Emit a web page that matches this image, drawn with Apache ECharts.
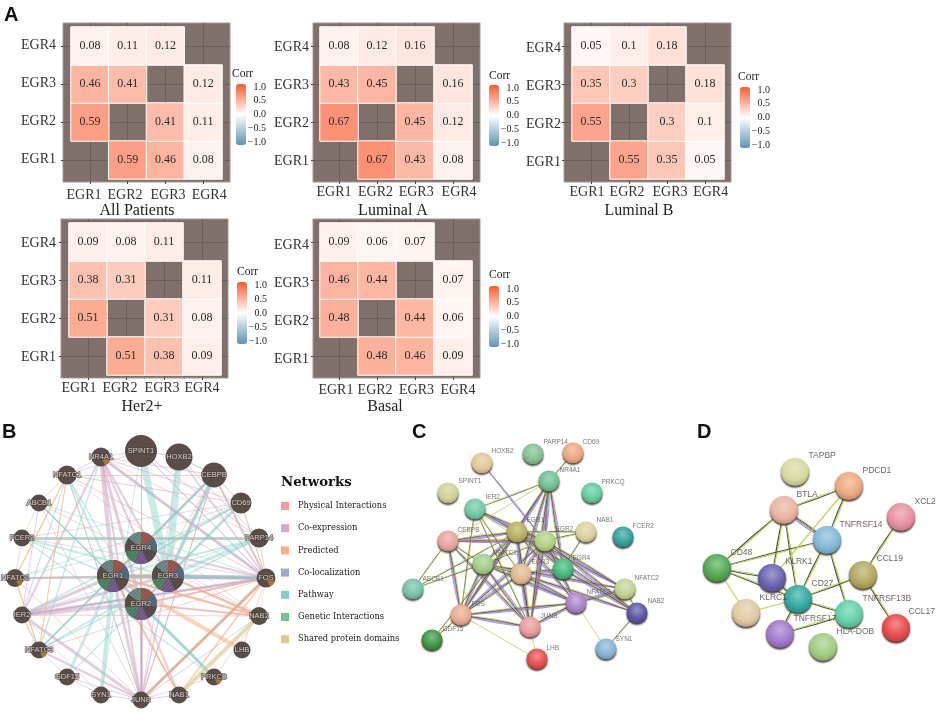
<!DOCTYPE html>
<html><head><meta charset="utf-8"><style>html,body{margin:0;background:#fff}#c{width:942px;height:712px}</style>
<script src="https://cdn.jsdelivr.net/npm/echarts@6/dist/echarts.min.js"></script></head>
<body><div id="c"></div><script>
// ---------- Panel A data ----------
const genes = ['EGR1','EGR2','EGR3','EGR4'];
const panelNames = ['All Patients','Luminal A','Luminal B','Her2+','Basal'];
const allPatients = [[null,0.59,0.46,0.08],[0.59,null,0.41,0.11],[0.46,0.41,null,0.12],[0.08,0.11,0.12,null]];
const luminalA   = [[null,0.67,0.43,0.08],[0.67,null,0.45,0.12],[0.43,0.45,null,0.16],[0.08,0.12,0.16,null]];
const luminalB   = [[null,0.55,0.35,0.05],[0.55,null,0.3,0.1],[0.35,0.3,null,0.18],[0.05,0.1,0.18,null]];
const her2       = [[null,0.51,0.38,0.09],[0.51,null,0.31,0.08],[0.38,0.31,null,0.11],[0.09,0.08,0.11,null]];
const basal      = [[null,0.48,0.46,0.09],[0.48,null,0.44,0.06],[0.46,0.44,null,0.07],[0.09,0.06,0.07,null]];
const matrices = [allPatients,luminalA,luminalB,her2,basal];

// ---------- Panel B data ----------
const networkTypes = ['Physical Interactions','Co-expression','Predicted','Co-localization','Pathway','Genetic Interactions','Shared protein domains'];
const physicalEdges = ['FOS JUNB 3','FCER2 PARP14 2.5','EGR1 EGR3 3','EGR1 EGR2 1.5','EGR2 EGR3 1.5','FOS NFATC2 1','FOS NFATC1 1','FOS IER2 1.2','NFATC1 JUNB 1','NFATC2 JUNB 1','NAB2 EGR1 2','NAB2 EGR2 2','NAB2 EGR3 2','NAB1 EGR1 1.5','NAB1 EGR2 2','CEBPB FOS 1','CEBPB JUNB 1','CEBPB NFATC1 1','NFATC3 FOS 1','NFATC2 EGR3 1.5','IER2 NAB2 1','NR4A1 PARP14 0.8','ABCB1 NAB2 0.8'];
const coexpressionEdges = ['NR4A1 EGR1 4','NR4A1 EGR2 3','NR4A1 EGR3 2','NR4A1 EGR4 2','NR4A1 FOS 3','NR4A1 IER2 2','NR4A1 JUNB 2','NR4A1 CD69 1','NR4A1 CEBPB 1','NR4A1 NFATC1 1','IER2 EGR1 3','IER2 EGR2 4','IER2 EGR3 3','IER2 FOS 3','IER2 JUNB 3','JUNB EGR1 3','JUNB EGR2 3','JUNB EGR4 1.5','JUNB EGR3 1.5','JUNB FOS 2','JUNB NFATC3 2','FOS EGR1 4','FOS EGR3 4','FOS EGR2 2','FOS EGR4 2','FOS CEBPB 2','FOS SPINT1 1','FOS CD69 1','FOS HOXB2 1.5','NFATC3 EGR1 1','NFATC2 EGR1 1','CEBPB EGR1 2','CEBPB EGR3 2','CEBPB JUNB 1','CEBPB NFATC3 1','SPINT1 EGR4 1','SPINT1 PARP14 1','GDF15 SYN1 1','SYN1 JUNB 1','NAB1 JUNB 1','GDF15 JUNB 1','CD69 EGR1 1','PARP14 FOS 1','NFATC1 CD69 1','IER2 NFATC3 1.5','ABCB1 IER2 1','HOXB2 PARP14 1','NAB2 EGR2 1','NFATC2 FCER2 0.8','NFATC1 SPINT1 0.8','SPINT1 NR4A1 0.8','HOXB2 CEBPB 0.8','FCER2 CD69 0.8','ABCB1 JUNB 0.8','LHB FOS 0.8','NAB2 PRKCB 0.8','SPINT1 JUNB 0.8','HOXB2 JUNB 0.8','NFATC1 NAB2 0.8','FCER2 FOS 0.8','IER2 SYN1 0.8','PRKCB JUNB 0.8'];
const predictedEdges = ['LHB EGR1 4','FOS JUNB 3','FOS NAB1 2','EGR1 EGR3 4','NAB1 EGR1 2','CEBPB EGR2 1','NFATC1 NFATC2 1.5','NFATC2 NFATC3 1','NFATC3 NFATC1 1','NAB2 EGR1 2','NAB2 EGR3 2','NAB1 NAB2 1','EGR2 EGR4 2','FOS EGR2 1.5','CEBPB CD69 0.8'];
const colocalizationEdges = ['NR4A1 FOS 1','EGR1 FOS 1','JUNB NAB2 1','SPINT1 HOXB2 1','HOXB2 CEBPB 1','NFATC1 IER2 1','IER2 FOS 1','SPINT1 FOS 0.8','GDF15 NFATC3 0.8'];
const pathwayEdges = ['SPINT1 EGR3 7','HOXB2 EGR3 7','CEBPB EGR3 4','CEBPB EGR4 3','FCER2 PARP14 3','FCER2 EGR3 2','CD69 EGR1 1.5','CD69 EGR3 3','PARP14 EGR3 3','PARP14 EGR1 2','SYN1 EGR1 4','GDF15 EGR1 3','NFATC3 EGR1 1.5','NFATC3 EGR4 2','NFATC3 EGR3 1.5','PRKCB EGR2 3','PRKCB EGR1 3','NFATC1 EGR1 2','NFATC1 EGR2 1.5','NFATC2 EGR4 1','NFATC2 EGR3 1.5','ABCB1 EGR2 1.5','ABCB1 EGR1 1.5','FOS EGR3 3','FOS EGR1 2','NAB2 EGR4 1','IER2 CD69 1.5','IER2 PARP14 1','ABCB1 FOS 1','FCER2 EGR1 1.5','NR4A1 NFATC3 1.5','GDF15 CD69 1.5','NFATC3 PARP14 1.5','NFATC1 JUNB 1','FCER2 PRKCB 1.5','SPINT1 SYN1 1','NFATC2 CD69 1','ABCB1 PRKCB 1'];
const geneticEdges = ['FOS JUNB 0.8','JUNB EGR2 0.8','EGR1 EGR4 0.8'];
const sharedEdges = ['NAB1 NAB2 4','NFATC1 NFATC2 1','NFATC1 NFATC3 1','NFATC2 NFATC3 1.5','ABCB1 FCER2 0.8','CEBPB CD69 0.8','CD69 FOS 0.8','NFATC1 ABCB1 1','FOS NAB2 0.8','CEBPB FOS 0.8'];
const edgesByType = [physicalEdges,coexpressionEdges,predictedEdges,colocalizationEdges,pathwayEdges,geneticEdges,sharedEdges];
const wedgeNodes = ['NR4A1','NFATC2','FOS','NFATC3','PRKCB'];
const hubNodes = ['EGR4','EGR1','EGR3','EGR2'];

// ---------- Panel C data ----------
const fullEdgesC = ['EGR1 EGR2','EGR1 EGR3','EGR1 EGR4','EGR2 EGR3','EGR2 EGR4','EGR3 EGR4','EGR1 NFATC1','EGR1 NR4A1','EGR2 NR4A1','EGR3 NR4A1','EGR4 NR4A1','EGR1 FOS','EGR2 FOS','EGR3 FOS','EGR1 JUNB','EGR2 JUNB','EGR3 JUNB','FOS JUNB','FOS NFATC3','FOS NFATC1','JUNB NFATC1','JUNB NFATC3','NFATC1 NFATC3','NFATC1 NFATC2','NFATC2 NFATC3','EGR1 NFATC2','EGR2 NFATC2','EGR1 NAB2','EGR2 NAB2','EGR3 NAB2','EGR4 NAB2','EGR1 NFATC3','EGR2 NFATC3','EGR3 NFATC3','CEBPB EGR1','CEBPB EGR2','CEBPB FOS','CEBPB JUNB','FOS NR4A1','JUNB NR4A1','IER2 EGR1','IER2 EGR2'];
const darkEdgesC = ['IER2 NR4A1','IER2 EGR3','IER2 FOS','IER2 JUNB','NAB2 NFATC2','NAB2 SYN1','CEBPB NFATC1','NFATC1 EGR3','GDF15 FOS','GDF15 EGR1','CEBPB ABCB1','ABCB1 EGR1','ABCB1 EGR2','NAB1 EGR1','NAB1 EGR2','NAB1 EGR4','NR4A1 CD69'];
const greenEdgesC = ['LHB FOS','LHB JUNB','NFATC3 SYN1','CEBPB NR4A1','IER2 EGR4'];
const cyanEdgesC = ['HOXB2 EGR2'];

// ---------- Panel D data ----------
const fullEdgesD = ['BTLA TNFRSF14'];
const darkEdgesD = ['BTLA PDCD1','BTLA CD48','BTLA KLRK1','BTLA CD27','PDCD1 TNFRSF14','TNFRSF14 CD48','TNFRSF14 CD27','TNFRSF14 TNFRSF13B','CD48 KLRK1','CD48 CD27','CD27 TNFRSF13B','CD27 CCL19','TNFRSF17 TNFRSF13B','XCL2 CCL19','CCL19 CCL17','KLRK1 CD27','CD27 TNFRSF17'];
const greenEdgesD = ['PDCD1 KLRK1','KLRC1 CD27','CD48 KLRC1'];

// ---------- Layout (image pixels) ----------
const heatLayout = [
 {p:[63,230,23,182], c:[71,222,27,179], bar:[236,84,61], corr:[232,68], t:[137,203], m:6, lx:[0.844,1.93,3.07,4.16], ys:-0.5, ym:7},
 {p:[313,480,23,182],c:[320,472,27,179],bar:[489,85,61], corr:[489,70], t:[393,203], m:3, lx:[0.87,1.96,3.03,4.16], ys:1, ym:4},
 {p:[564,731,23,182],c:[572,724,27,179],bar:[740,87,61], corr:[738,71], t:[639,203], m:3, lx:[0.895,1.95,3.08,4.15], ys:2.5, ym:3},
 {p:[61,228,219,378],c:[69,221,223,375],bar:[237,282,62],corr:[237,266],t:[142,399], m:3, lx:[0.76,1.84,2.95,4.0], ys:1, ym:5},
 {p:[313,480,219,378],c:[320,472,223,375],bar:[489,286,61],corr:[489,269],t:[385,399],m:5, lx:[0.92,1.95,3.04,4.13], ys:3, ym:4}
];
const layoutB = {SPINT1:[141,451,32],HOXB2:[179,457,27],CEBPB:[214,475,25],CD69:[241,503,21],PARP14:[259,538,19],FOS:[266,578,19],NAB2:[259,616,18],LHB:[242,650,17],PRKCB:[214,677,17],NAB1:[179,695,17],JUNB:[141,700,17],SYN1:[101,695,17],GDF15:[67,677,17],NFATC3:[39,650,17],IER2:[22,615,17],NFATC2:[15,578,18],FCER2:[22,538,17],ABCB1:[39,503,17],NFATC1:[67,475,19],NR4A1:[101,457,19],EGR4:[141,548,32],EGR1:[113,576,32],EGR3:[168,576,32],EGR2:[141,604,32]};
// [x, y, colour, label x, label y]
const layoutC = {HOXB2:[482,463,'#e2c795',491,451],PARP14:[533,454,'#7fc08f',543,442],CD69:[573,453,'#eba67e',582,442],NR4A1:[549,481,'#6cc08e',559,470],SPINT1:[448,493,'#cfd095',458,481],IER2:[475,509,'#6dc8a6',485,497],PRKCQ:[592,493,'#5fc9a0',601,482],EGR1:[517,532,'#b6ad5e',526,520],EGR2:[545,541,'#afd07e',555,529],NAB1:[586,532,'#d9d196',596,520],FCER2:[623,537,'#2f9f98',632,526],CEBPB:[448,541,'#e8a29f',457,530],NFATC1:[483,564,'#a0cc88',492,553],EGR3:[521,574,'#e0b88f',531,562],EGR4:[563,569,'#3fb878',572,558],NFATC2:[625,589,'#c0d090',634,578],ABCB1:[413,589,'#72c0a8',422,579],NFATC3:[576,603,'#a982c8',586,592],NAB2:[637,613,'#5a52a2',647,601],FOS:[461,615,'#e9a98f',471,604],JUNB:[530,627,'#e99a9a',540,616],GDF15:[432,640,'#389340',442,629],LHB:[537,659,'#e84a4a',546,648],SYN1:[606,649,'#82b2d2',615,639]};
const layoutD = {TAPBP:[795,472,'#d8d8a0',808,456],PDCD1:[849,486,'#eba97f',862,471],BTLA:[784,510,'#e9b2a0',796,495],XCL2:[901,517,'#e78fa0',914,502],TNFRSF14:[827,540,'#80b8d8',839,525],CD48:[717,568,'#4fa850',730,553],CCL19:[863,575,'#b0a85e',876,559],KLRK1:[772,578,'#6860b0',785,562],CD27:[798,599,'#2fa8a0',811,584],KLRC1:[746,613,'#e0c8a0',759,598],TNFRSF13B:[849,614,'#60d0a8',862,599],CCL17:[896,628,'#e84848',908,612],TNFRSF17:[780,634,'#a078c8',793,619],'HLA-DOB':[823,647,'#a0cc80',836,632]};
const panelLetters = [['A',4,5],['B',2,422],['C',412,422],['D',697,422]];
const networkColors = ['#f59a9a','#d3abc8','#f9b07f','#9fa8d0','#7dcfc8','#6fc98a','#dccb8e'];
const networkOpacity = [0.5,0.6,0.55,0.5,0.42,0.5,0.6];
const sliceColors = ['#a0564f','#4f6f80','#5a4d48','#7a5a90','#4f8560','#5a4d48','#6a8a85'];
const strandsFull = ['#9060c0','#40b8d8','#e040c0','#3a3a32','#b8d040'];
const strandsDark = ['#3a3a32','#b8d040'];
const strandsGreen = ['#b8d040'];
const strandsCyan = ['#9060c0','#e040c0','#40b8d8'];

const SERIF = '"Liberation Serif",serif', SANS = '"Liberation Sans",Arial,sans-serif';
const grid=[], xAxis=[], yAxis=[], series=[], visualMap=[], title=[];
const hatch = document.createElement('canvas'); hatch.width = hatch.height = 4;
(function(){const g=hatch.getContext('2d');g.strokeStyle='rgba(40,30,28,.16)';g.lineWidth=1;g.beginPath();g.moveTo(-1,5);g.lineTo(5,-1);g.moveTo(-1,1);g.lineTo(1,-1);g.moveTo(3,5);g.lineTo(5,3);g.stroke();})();

// ---------- Heatmaps ----------
heatLayout.forEach((L,i)=>{
  const [pl,pr,pt,pb]=L.p, [cl,cr,ct,cb]=L.c;
  const ux=(cr-cl)/4, uy=(cb-ct)/4;
  const g=grid.length;
  grid.push({left:pl,top:pt,width:pr-pl,height:pb-pt,show:true,backgroundColor:'#7f706c',borderColor:'#a39996',borderWidth:1});
  xAxis.push({gridIndex:g,type:'value',min:0.5-(cl-pl)/ux,max:4.5+(pr-cr)/ux,
    axisLine:{show:false},axisTick:{show:true,length:2,customValues:[1,2,3,4],lineStyle:{color:'#444'}},
    splitLine:{show:true,lineStyle:{color:'#6b5d59',width:1}},
    axisLabel:{customValues:L.lx,margin:L.m,fontFamily:SERIF,fontSize:14,color:'#333',formatter:v=>genes[Math.round(v)-1]||''}});
  yAxis.push({gridIndex:g,type:'value',min:0.5-(pb-cb)/uy,max:4.5+(ct-pt)/uy,
    axisLine:{show:false},axisTick:{show:true,length:2,customValues:[1,2,3,4],lineStyle:{color:'#444'}},
    splitLine:{show:true,lineStyle:{color:'#6b5d59',width:1}},
    axisLabel:{customValues:[1,2,3,4].map(v=>v-L.ys/uy),margin:L.ym,fontFamily:SERIF,fontSize:14,color:'#333',formatter:v=>genes[Math.round(v)-1]||''}});
  // cells
  const h=grid.length;
  grid.push({left:cl,top:ct,width:cr-cl,height:cb-ct});
  xAxis.push({gridIndex:h,type:'category',data:genes,show:false});
  yAxis.push({gridIndex:h,type:'category',data:genes,show:false});
  const data=[];
  matrices[i].forEach((row,r)=>row.forEach((v,c)=>{ if(v!==null) data.push([c,r,v]); }));
  series.push({type:'heatmap',name:panelNames[i],xAxisIndex:h,yAxisIndex:h,data,silent:true,animation:false,
    itemStyle:{borderColor:'#fff',borderWidth:1},
    label:{show:true,fontFamily:SERIF,fontSize:12,color:'#2a2a2a',formatter:p=>String(p.value[2])}});
  visualMap.push({type:'continuous',seriesIndex:i,dimension:2,min:-1,max:1,left:L.bar[0],top:L.bar[1],itemWidth:10,itemHeight:L.bar[2],
    padding:0,text:null,calculable:false,hoverLink:false,inRange:{color:['#5f94b5','#ffffff','#fb5c2e']}});
  // colourbar scale
  const k=grid.length;
  grid.push({left:L.bar[0],top:L.bar[1]+3,width:10,height:L.bar[2]-6});
  xAxis.push({gridIndex:k,type:'value',min:0,max:1,show:false});
  yAxis.push({gridIndex:k,type:'value',min:-1,max:1,interval:0.5,position:'right',
    axisLine:{show:false},axisTick:{show:false},splitLine:{show:false},
    axisLabel:{margin:20,fontFamily:SERIF,fontSize:10,color:'#222',align:'right',
      formatter:v=>v<0?'\u2212'+Math.abs(v).toFixed(1):v.toFixed(1)}});
  title.push({text:'Corr',left:L.corr[0],top:L.corr[1],padding:0,textStyle:{fontFamily:SERIF,fontSize:11.5,fontWeight:'normal',color:'#222'}});
  title.push({text:panelNames[i],left:L.t[0],top:L.t[1],padding:0,textAlign:'center',textStyle:{fontFamily:SERIF,fontSize:16,fontWeight:'normal',color:'#222'}});
});
panelLetters.forEach(a=>title.push({text:a[0],left:a[1],top:a[2],padding:0,textStyle:{fontFamily:SANS,fontSize:20,fontWeight:'bold',color:'#111'}}));
title.push({text:'Networks',left:281,top:476,padding:0,textStyle:{fontFamily:'"DejaVu Serif",serif',fontSize:13.3,fontWeight:'bold',color:'#111'}});

// ---------- Network canvas: a full-page value grid ----------
const N=grid.length;
grid.push({left:0,top:0,width:942,height:712});
xAxis.push({gridIndex:N,type:'value',min:0,max:942,show:false});
yAxis.push({gridIndex:N,type:'value',min:0,max:712,inverse:true,show:false});
const onNet={coordinateSystem:'cartesian2d',xAxisIndex:N,yAxisIndex:N,silent:true,animation:false};
const labelMark={symbol:'circle',symbolSize:1,itemStyle:{color:'rgba(0,0,0,0)'}};

// Panel B edges, one graph per network type
const bNames=Object.keys(layoutB);
edgesByType.forEach((list,t)=>{
  series.push({...onNet,type:'graph',name:networkTypes[t],z:3,itemStyle:{color:networkColors[t]},
    symbolSize:0,label:{show:false},
    data:bNames.map(n=>({name:n,value:layoutB[n].slice(0,2)})),
    lineStyle:{color:networkColors[t],opacity:networkOpacity[t]},
    links:list.map(e=>{const [a,b,w]=e.split(' ');return {source:a,target:b,lineStyle:{width:+w}};})});
});
// Panel B nodes
series.push({...onNet,type:'graph',name:'nodesB',z:4,symbol:'circle',itemStyle:{color:'#5a4d48'},label:{show:false},
  data:bNames.map(n=>({name:n,value:layoutB[n].slice(0,2),symbolSize:layoutB[n][2]})),links:[]});
// Panel B pie-like node segments
const sliceDeg=360/7, wedgeRows=[];
hubNodes.forEach(n=>{const l=layoutB[n];sliceColors.forEach((c,j)=>wedgeRows.push([l[0],l[1],l[2]/2,j*sliceDeg,(j+1)*sliceDeg,j]));});
wedgeNodes.forEach(n=>{const l=layoutB[n];wedgeRows.push([l[0],l[1],l[2]/2,110,155,-1]);});
series.push({...onNet,type:'custom',name:'segmentsB',z:5,clip:false,encode:{x:0,y:1},data:wedgeRows,
  renderItem:(p,api)=>{
    const c=api.coord([api.value(0),api.value(1)]), i=api.value(5);
    const shape={cx:c[0],cy:c[1],r:api.value(2),r0:0,startAngle:(api.value(3)-90)*Math.PI/180,endAngle:(api.value(4)-90)*Math.PI/180};
    const kids=[{type:'sector',shape,style:{fill:i<0?'#a9792e':sliceColors[i]}}];
    if(i>=0) kids.push({type:'sector',shape,style:{fill:{image:hatch,repeat:'repeat'}}});
    return {type:'group',children:kids};
  }});
series.push({...onNet,...labelMark,type:'scatter',name:'labelsB',z:6,
  data:bNames.map(n=>({name:n,value:layoutB[n].slice(0,2)})),
  label:{show:true,position:'inside',formatter:'{b}',fontFamily:SANS,fontSize:7.5,color:'#f4f0ee',textBorderColor:'#4a3f3b',textBorderWidth:1.5}});

// Panels C, D: bundles of thin strands through the same nodes
function bundleLinks(list,strands,layout,gap,width){
  const out=[];
  list.forEach(e=>{
    const [a,b]=e.split(' '), A=layout[a], B=layout[b];
    const d=Math.hypot(A[0]-B[0],A[1]-B[1]);
    strands.forEach((col,j)=>{
      const off=(j-(strands.length-1)/2)*gap;
      out.push({source:a,target:b,lineStyle:{color:col,width,opacity:0.9,curveness:2*off/d}});
    });
  });
  return out;
}
function mix(a,b,t){
  const p=h=>[1,3,5].map(i=>parseInt(h.substr(i,2),16)), A=p(a), B=p(b);
  return '#'+A.map((v,i)=>Math.round(v+(B[i]-v)*t).toString(16).padStart(2,'0')).join('');
}
function sphere(c){
  return {type:'radial',x:0.5,y:0.36,r:0.68,colorStops:[{offset:0,color:mix(c,'#ffffff',0.38)},{offset:0.65,color:c},{offset:0.9,color:mix(c,'#201810',0.18)},{offset:1,color:mix(c,'#201810',0.5)}]};
}
function networkPanel(tag,layout,links,size,fontSize,textColor){
  const names=Object.keys(layout);
  series.push({...onNet,type:'graph',name:'network'+tag,z:3,symbol:'circle',symbolSize:size,label:{show:false},
    data:names.map(n=>({name:n,value:layout[n].slice(0,2),itemStyle:{color:sphere(layout[n][2]),shadowColor:'#3a3028',shadowBlur:2,shadowOffsetY:1.5}})),
    links});
  series.push({...onNet,...labelMark,type:'scatter',name:'labels'+tag,z:6,
    data:names.map(n=>({name:n,value:layout[n].slice(3,5)})),
    label:{show:true,position:'right',distance:0,formatter:'{b}',fontFamily:SANS,fontSize,color:textColor}});
}
networkPanel('C',layoutC,[
  ...bundleLinks(fullEdgesC,strandsFull,layoutC,0.85,0.8),
  ...bundleLinks(darkEdgesC,strandsDark,layoutC,1,0.8),
  ...bundleLinks(greenEdgesC,strandsGreen,layoutC,1,0.8),
  ...bundleLinks(cyanEdgesC,strandsCyan,layoutC,0.8,0.8)],21,6.5,'#555');
networkPanel('D',layoutD,[
  ...bundleLinks(fullEdgesD,strandsFull,layoutD,1,1),
  ...bundleLinks(darkEdgesD,strandsDark,layoutD,1.5,1.2),
  ...bundleLinks(greenEdgesD,strandsGreen,layoutD,1,1.2)],28,8.5,'#4a3f38');

const chart=echarts.init(document.getElementById('c'),null,{renderer:'canvas'});
chart.setOption({animation:false,backgroundColor:'#fff',grid,xAxis,yAxis,series,visualMap,title,
  legend:{data:networkTypes,orient:'vertical',left:281,top:502,itemWidth:8,itemHeight:8,itemGap:14.2,icon:'rect',padding:0,selectedMode:false,
    textStyle:{fontFamily:'"DejaVu Serif",serif',fontSize:8.3,color:'#222',padding:[0,0,0,4]}}});
</script></body></html>
